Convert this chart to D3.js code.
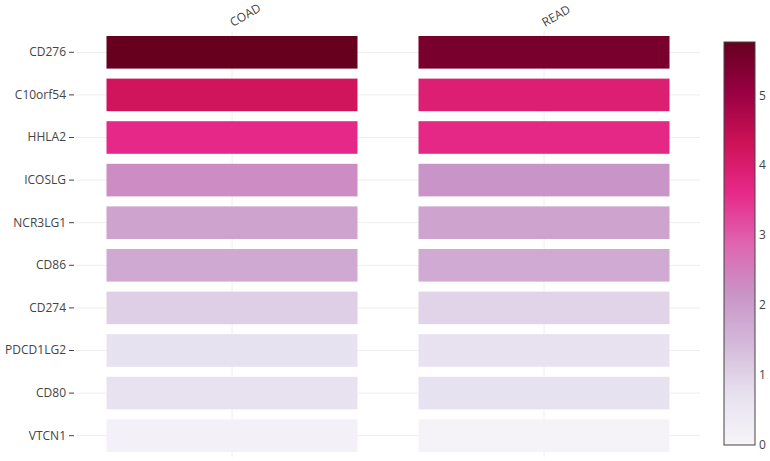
<!DOCTYPE html>
<html><head><meta charset="utf-8">
<script src="https://cdn.jsdelivr.net/npm/d3@7"></script>
<style>body{margin:0;background:#fff;}svg{display:block;font-family:"Open Sans",sans-serif;}</style>
</head><body>
<svg id="chart" width="770" height="461"></svg>
<script>
const genes = ["CD276","C10orf54","HHLA2","ICOSLG","NCR3LG1","CD86","CD274","PDCD1LG2","CD80","VTCN1"];
const cohorts = ["COAD","READ"];
const coadValues = [5.76,4.22,3.62,2.28,1.85,1.75,1.04,0.70,0.68,0.15];
const readValues = [5.5,3.92,3.65,2.16,1.85,1.73,0.95,0.68,0.70,0.05];
const colorTicks = [0,1,2,3,4,5];
const colorStops = [[0,'rgb(247,244,249)'],[0.125,'rgb(231,225,239)'],[0.25,'rgb(212,185,218)'],[0.375,'rgb(201,148,199)'],[0.5,'rgb(223,101,176)'],[0.625,'rgb(231,41,138)'],[0.75,'rgb(206,18,86)'],[0.875,'rgb(152,0,67)'],[1,'rgb(103,0,31)']];

const valuesByCohort = {COAD: coadValues, READ: readValues};
const cells = [];
cohorts.forEach(c => genes.forEach((g,i) => cells.push({cohort:c, gene:g, value:valuesByCohort[c][i]})));

const zmin = 0, zmax = d3.max(cells, d => d.value);
const svg = d3.select("#chart");
const m = {l:76, r:700, t:31, b:457};
const x = d3.scaleBand().domain(cohorts).range([m.l, m.r]);
const y = d3.scaleBand().domain(genes).range([m.t, m.b]);
const color = d3.scaleLinear()
  .domain(colorStops.map(s => zmin + s[0]*(zmax-zmin)))
  .range(colorStops.map(s => s[1]))
  .interpolate(d3.interpolateRgb).clamp(true);

const xgap = 61, ygap = 10;
const text = "#444";

// gridlines
const grid = svg.append("g");
genes.forEach(g => grid.append("line").attr("x1", m.l).attr("x2", m.r)
  .attr("y1", y(g)+y.bandwidth()/2).attr("y2", y(g)+y.bandwidth()/2)
  .attr("stroke","#eee").attr("stroke-width",1));
cohorts.forEach(c => grid.append("line").attr("y1", m.t).attr("y2", m.b)
  .attr("x1", x(c)+x.bandwidth()/2).attr("x2", x(c)+x.bandwidth()/2)
  .attr("stroke","#eee").attr("stroke-width",1));

// cells
svg.append("g").selectAll("rect").data(cells).join("rect")
  .attr("x", d => x(d.cohort) + xgap/2)
  .attr("y", d => y(d.gene) + ygap/2)
  .attr("width", x.bandwidth() - xgap)
  .attr("height", y.bandwidth() - ygap)
  .attr("fill", d => color(d.value));

// y axis
const yAxis = svg.append("g").attr("transform", `translate(${m.l-2},0)`)
  .call(d3.axisLeft(y).tickSize(5).tickPadding(3));
yAxis.select(".domain").remove();
yAxis.selectAll(".tick line").attr("stroke", text);
yAxis.selectAll(".tick text").attr("fill", text).style("font-size","12px").style("font-family","'Open Sans',sans-serif");

// x axis top labels rotated
const xAxis = svg.append("g");
cohorts.forEach(c => {
  const cx = x(c) + x.bandwidth()/2;
  xAxis.append("text").attr("transform", `translate(${cx+1},${m.t-4}) rotate(-30)`)
    .attr("text-anchor","start").attr("fill", text)
    .style("font-size","12px").text(c);
});

// colorbar
const cb = {x:724, w:31, top:42, bottom:445};
const defs = svg.append("defs");
const grad = defs.append("linearGradient").attr("id","cbgrad")
  .attr("x1","0").attr("y1","1").attr("x2","0").attr("y2","0");
colorStops.forEach(s => grad.append("stop").attr("offset", s[0]).attr("stop-color", s[1]));
svg.append("rect").attr("x", cb.x).attr("y", cb.top).attr("width", cb.w).attr("height", cb.bottom-cb.top)
  .attr("fill","url(#cbgrad)").attr("stroke", text).attr("stroke-width",1);
const cscale = d3.scaleLinear().domain([zmin, zmax]).range([cb.bottom, cb.top]);
const cAxis = svg.append("g").attr("transform", `translate(${cb.x+cb.w},0)`)
  .call(d3.axisRight(cscale).tickValues(colorTicks).tickSize(0).tickPadding(4).tickFormat(d3.format("d")));
cAxis.select(".domain").remove();
cAxis.selectAll(".tick text").attr("fill", text).style("font-size","12px").style("font-family","'Open Sans',sans-serif");
</script>
</body></html>
